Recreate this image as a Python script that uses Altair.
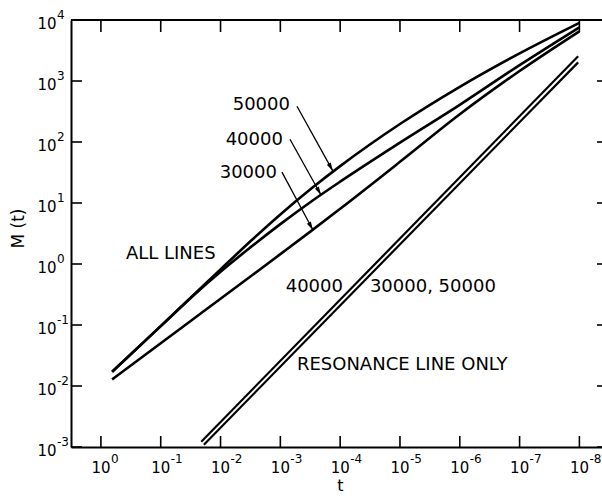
import altair as alt
import pandas as pd

# ---------------- data ----------------
# "ALL LINES" curves (t decreasing to the right)
t_all = [0.65, 0.1, 0.03, 0.01, 0.003, 0.001, 3e-4, 1e-4, 1e-5, 1e-6, 1e-7, 1e-8]
M_all_50000 = [0.0171, 0.0957, 0.293, 0.815, 2.47, 6.49, 17.4, 40.2, 197, 802, 2840, 8990]
M_all_40000 = [0.0171, 0.0957, 0.290, 0.745, 1.95, 4.50, 10.7, 22.4, 97.7, 407, 1820, 7590]
M_all_30000 = [0.0128, 0.0501, 0.121, 0.269, 0.649, 1.45, 3.52, 8.04, 47.3, 285, 1460, 6530]

# "RESONANCE LINE ONLY" lines (straight in log-log)
t_res_40000 = [0.021, 1.05e-8]
M_res_40000 = [0.00122, 2540]
t_res_30000_50000 = [0.019, 1.05e-8]
M_res_30000_50000 = [0.00109, 2020]

# tick values and labels (base "10" plus exponent)
x_tick_values = [1, 1e-1, 1e-2, 1e-3, 1e-4, 1e-5, 1e-6, 1e-7, 1e-8]
x_tick_exponents = ["0", "-1", "-2", "-3", "-4", "-5", "-6", "-7", "-8"]
y_tick_values = [1e-3, 1e-2, 1e-1, 1, 1e1, 1e2, 1e3, 1e4]
y_tick_exponents = ["-3", "-2", "-1", "0", "1", "2", "3", "4"]
tick_base = "10"

# annotations
label_left_text = ["ALL LINES", "30000, 50000", "RESONANCE LINE ONLY"]
label_left_t = [0.382, 3.18e-5, 5.28e-4]
label_left_M = [1.51, 0.428, 0.0226]
label_right_text = ["50000", "40000", "30000", "40000"]
label_right_t = [6.9e-4, 9.05e-4, 1.14e-3, 8.98e-5]
label_right_M = [416, 113, 32.7, 0.428]

arrow_start_t = [5.27e-4, 6.9e-4, 9.4e-4]
arrow_start_M = [385, 111, 32.1]
arrow_tip_t = [1.32e-4, 2.09e-4, 2.85e-4]
arrow_tip_M = [33.3, 13.5, 3.60]

# ---------------- build tables ----------------
rows = []
for name, ms in [("50000", M_all_50000), ("40000", M_all_40000), ("30000", M_all_30000)]:
    for i, (t, m) in enumerate(zip(t_all, ms)):
        rows.append({"series": name, "order": i, "t": t, "M": m})
curves = pd.DataFrame(rows)

rrows = []
for name, ts, ms in [("r40000", t_res_40000, M_res_40000),
                     ("r30000_50000", t_res_30000_50000, M_res_30000_50000)]:
    for i, (t, m) in enumerate(zip(ts, ms)):
        rrows.append({"series": name, "order": i, "t": t, "M": m})
res = pd.DataFrame(rrows)

xt_df = pd.DataFrame({"t": x_tick_values, "exp": x_tick_exponents})
yt_df = pd.DataFrame({"M": y_tick_values, "exp": y_tick_exponents})
lab_l = pd.DataFrame({"t": label_left_t, "M": label_left_M, "text": label_left_text})
lab_r = pd.DataFrame({"t": label_right_t, "M": label_right_M, "text": label_right_text})
arrows = pd.DataFrame({"t0": arrow_start_t, "M0": arrow_start_M,
                       "t1": arrow_tip_t, "M1": arrow_tip_M})

# ---------------- layout / style ----------------
W, H = 531, 427
FONT = "DejaVu Sans"
xscale = alt.Scale(type="log", domain=[4.19e-9, 3.1623], reverse=True, nice=False)
yscale = alt.Scale(type="log", domain=[1e-3, 1e4], nice=False)

base_expr = "'%s'" % tick_base

xaxis = alt.Axis(values=x_tick_values, labelExpr=base_expr, title="t", grid=False,
                 ticks=False, tickSize=0, domainColor="black", domainWidth=2,
                 labelFont=FONT, labelFontSize=15, labelColor="black",
                 labelAlign="left", labelOffset=-10, labelBaseline="alphabetic",
                 labelPadding=25, labelFlush=False, labelOverlap=False,
                 titleFont=FONT, titleFontSize=16, titleFontWeight="normal",
                 titleColor="black", titleX=269, titleY=43,
                 titleBaseline="alphabetic", titleAlign="center")
yaxis = alt.Axis(values=y_tick_values, labelExpr=base_expr, title="M (t)", grid=False,
                 ticks=False, tickSize=0, domainColor="black", domainWidth=2,
                 labelFont=FONT, labelFontSize=15, labelColor="black",
                 labelAlign="left", labelPadding=34, labelBaseline="alphabetic",
                 labelOffset=8, labelFlush=False, labelOverlap=False,
                 titleFont=FONT, titleFontSize=17, titleFontWeight="normal",
                 titleColor="black", titleX=-53, titleY=208, titleAngle=-90,
                 titleAlign="center", titleBaseline="middle")

lines = alt.Chart(curves).mark_line(color="black", strokeWidth=2.6,
                                    interpolate="monotone").encode(
    x=alt.X("t:Q", scale=xscale, axis=xaxis),
    y=alt.Y("M:Q", scale=yscale, axis=yaxis),
    detail="series:N",
    order="order:Q",
)

res_lines = alt.Chart(res).mark_line(color="black", strokeWidth=2.2).encode(
    x=alt.X("t:Q", scale=xscale),
    y=alt.Y("M:Q", scale=yscale),
    detail="series:N",
    order="order:Q",
)

tick_style = dict(color="black", strokeWidth=1.6)
ticks_bottom = alt.Chart(xt_df).mark_rule(**tick_style).encode(
    x=alt.X("t:Q", scale=xscale), y=alt.value(H), y2=alt.value(H - 11))
ticks_top = alt.Chart(xt_df).mark_rule(**tick_style).encode(
    x=alt.X("t:Q", scale=xscale), y=alt.value(0), y2=alt.value(12))
ticks_left = alt.Chart(yt_df).mark_rule(**tick_style).encode(
    y=alt.Y("M:Q", scale=yscale), x=alt.value(0), x2=alt.value(11))
ticks_right = alt.Chart(yt_df).mark_rule(**tick_style).encode(
    y=alt.Y("M:Q", scale=yscale), x=alt.value(W - 5), x2=alt.value(W))
top_border = alt.Chart(pd.DataFrame({"a": [0]})).mark_rule(color="black", strokeWidth=2).encode(
    x=alt.value(0), x2=alt.value(W), y=alt.value(0))

# exponents of the tick labels
exp_style = dict(font=FONT, fontSize=12, color="black", align="left", baseline="alphabetic")
x_exp = alt.Chart(xt_df).mark_text(dx=10, **exp_style).encode(
    x=alt.X("t:Q", scale=xscale), y=alt.value(H + 16), text="exp:N")
y_exp = alt.Chart(yt_df).mark_text(dy=-1, **exp_style).encode(
    y=alt.Y("M:Q", scale=yscale), x=alt.value(-14), text="exp:N")

text_style = dict(font=FONT, fontSize=18, color="black", baseline="middle", dy=1)
texts_l = alt.Chart(lab_l).mark_text(align="left", **text_style).encode(
    x=alt.X("t:Q", scale=xscale),
    y=alt.Y("M:Q", scale=yscale),
    text="text:N")
texts_r = alt.Chart(lab_r).mark_text(align="right", **text_style).encode(
    x=alt.X("t:Q", scale=xscale),
    y=alt.Y("M:Q", scale=yscale),
    text="text:N")

arrow_lines = alt.Chart(arrows).mark_rule(color="black", strokeWidth=1.3).encode(
    x=alt.X("t0:Q", scale=xscale),
    y=alt.Y("M0:Q", scale=yscale),
    x2="t1:Q", y2="M1:Q")
arrow_heads = alt.Chart(arrows).mark_point(
    shape="M0,0L-0.45,1.7L0.45,1.7Z", filled=True, size=100, angle=151,
    color="black", opacity=1, strokeWidth=0).encode(
    x=alt.X("t1:Q", scale=xscale),
    y=alt.Y("M1:Q", scale=yscale))

chart = alt.layer(
    lines, res_lines, ticks_bottom, ticks_top, ticks_left, ticks_right, top_border,
    x_exp, y_exp, texts_l, texts_r, arrow_lines, arrow_heads
).properties(
    width=W, height=H,
    padding={"left": 71, "top": 20, "right": 0, "bottom": 55},
    autosize=alt.AutoSizeParams(type="none"),
    background="white",
).configure_view(strokeWidth=0)

chart.save("out.html", embed_options={"renderer": "svg", "actions": False})
